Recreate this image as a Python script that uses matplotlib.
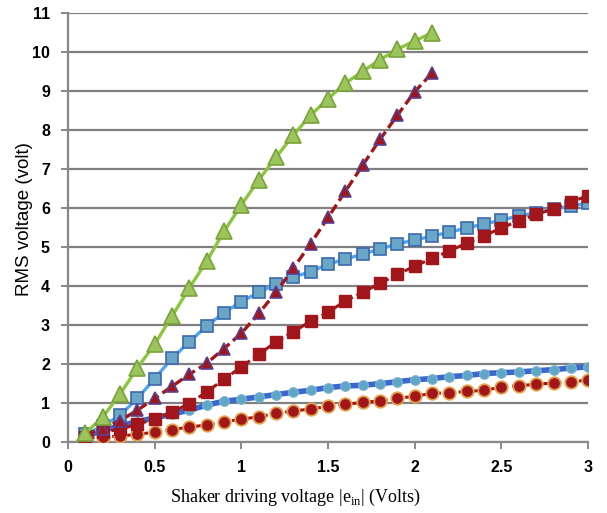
import numpy as np
import matplotlib.pyplot as plt

# drive voltage steps
x_long = [0.1, 0.2, 0.3, 0.4, 0.5, 0.6, 0.7, 0.8, 0.9, 1.0,
          1.1, 1.2, 1.3, 1.4, 1.5, 1.6, 1.7, 1.8, 1.9, 2.0,
          2.1, 2.2, 2.3, 2.4, 2.5, 2.6, 2.7, 2.8, 2.9, 3.0]
x_short = x_long[:21]

green_tri = [0.23, 0.64, 1.23, 1.9, 2.51, 3.23, 3.95, 4.64, 5.4, 6.08,
             6.72, 7.3, 7.87, 8.38, 8.8, 9.2, 9.5, 9.8, 10.07, 10.28, 10.49]
red_tri = [0.2, 0.35, 0.55, 0.82, 1.12, 1.43, 1.74, 2.02, 2.4, 2.79,
           3.3, 3.84, 4.46, 5.09, 5.76, 6.43, 7.1, 7.76, 8.38, 8.98, 9.46]
blue_sq = [0.2, 0.41, 0.69, 1.12, 1.63, 2.15, 2.57, 2.98, 3.32, 3.6,
           3.84, 4.05, 4.23, 4.37, 4.56, 4.69, 4.82, 4.95, 5.08, 5.18,
           5.28, 5.38, 5.49, 5.59, 5.69, 5.8, 5.88, 5.97, 6.05, 6.13]
red_sq = [0.13, 0.26, 0.33, 0.46, 0.59, 0.77, 0.99, 1.29, 1.61, 1.93,
          2.25, 2.57, 2.83, 3.1, 3.33, 3.62, 3.84, 4.07, 4.3, 4.51,
          4.71, 4.9, 5.1, 5.29, 5.49, 5.67, 5.84, 5.97, 6.16, 6.31]
blue_circ = [0.15, 0.3, 0.42, 0.53, 0.62, 0.72, 0.82, 0.95, 1.05, 1.1,
             1.16, 1.22, 1.28, 1.33, 1.4, 1.44, 1.46, 1.5, 1.55, 1.6,
             1.63, 1.68, 1.71, 1.76, 1.78, 1.8, 1.83, 1.86, 1.9, 1.93]
red_circ = [0.1, 0.13, 0.16, 0.2, 0.26, 0.32, 0.39, 0.44, 0.52, 0.59,
            0.65, 0.74, 0.8, 0.85, 0.92, 0.97, 1.02, 1.06, 1.12, 1.18,
            1.25, 1.27, 1.3, 1.33, 1.41, 1.45, 1.48, 1.52, 1.55, 1.59]

x_ticks = [0, 0.5, 1, 1.5, 2, 2.5, 3]
x_ticklabels = ['0', '0.5', '1', '1.5', '2', '2.5', '3']
y_ticks = list(range(0, 12))

fig = plt.figure(figsize=(6.07, 5.13), dpi=100)
ax = fig.add_axes([0.112, 0.138, 0.857, 0.837])

dash = (3, 1.4)
ax.plot(x_long, blue_circ, '-o', color='#3a68cf', lw=4, ms=7,
        mfc='#5fa6c6', mec='#7fb6d0', mew=0.8, zorder=3)
ax.plot(x_long, red_circ, '--o', color='#a0161a', lw=2.2, dashes=dash, ms=9,
        mfc='#a0161a', mec='#e3a24a', mew=1.3, zorder=3)
ax.plot(x_long, blue_sq, '-s', color='#4fa6f0', lw=2.4, ms=9,
        mfc='#6aa7c7', mec='#3c68b0', mew=1.2, zorder=4)
ax.plot(x_long, red_sq, '--s', color='#a0161a', lw=2.2, dashes=dash, ms=9,
        mfc='#a0161a', mec='#a0161a', mew=1, zorder=5)
ax.plot(x_short, red_tri, '--^', color='#a0161a', lw=2.4, dashes=dash, ms=9,
        mfc='#a0161a', mec='#5a3e90', mew=1.2, zorder=6)
ax.plot(x_short, green_tri, '-^', color='#8cc63f', lw=2.4, ms=11,
        mfc='#9bc45a', mec='#78a23a', mew=1.2, zorder=7)

ax.set_xlim(0, 3)
ax.set_ylim(0, 11)
ax.set_xticks(x_ticks)
ax.set_xticklabels(x_ticklabels)
ax.set_yticks(y_ticks)
ax.yaxis.grid(True, color='#808080', lw=1.6)
ax.set_axisbelow(True)
for s in ['top', 'right']:
    ax.spines[s].set_visible(False)
for s in ['left', 'bottom']:
    ax.spines[s].set_color('#888888')
    ax.spines[s].set_linewidth(1.6)
ax.tick_params(axis='both', direction='out', length=5, width=1.4,
               color='#888888', labelsize=11.5, pad=8)
for lab in ax.get_xticklabels() + ax.get_yticklabels():
    lab.set_fontfamily('Liberation Sans')
    lab.set_fontweight('bold')

ax.set_ylabel('RMS voltage (volt)', fontsize=13.5, family='Liberation Sans')
ax.yaxis.set_label_coords(-0.067, 0.52)
ax.set_xlabel(r'Shaker driving voltage |e$_{\mathregular{in}}$| (Volts)',
              fontsize=13, family='Liberation Serif')
ax.xaxis.set_label_coords(0.437, -0.105)

fig.savefig('out.png', dpi=100)
